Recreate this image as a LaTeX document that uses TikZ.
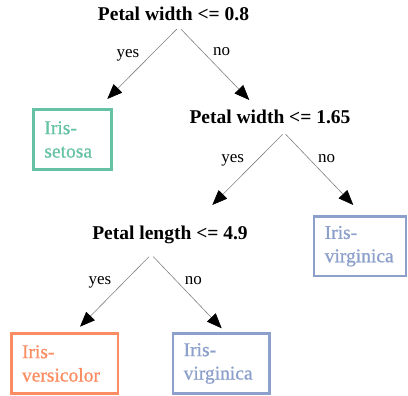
\documentclass[tikz,border=0pt]{standalone}
\usepackage{fontspec}
\setmainfont{Liberation Serif}
\newfontfamily\leaffont{Liberation Serif}[FakeBold=0.8]
\usetikzlibrary{arrows.meta}
\definecolor{setgreen}{HTML}{66C2A5}
\definecolor{setorange}{HTML}{FC8D62}
\definecolor{setblue}{HTML}{8DA0CB}
\begin{document}
\begin{tikzpicture}[x=1pt,y=-1pt,
  cond/.style={font=\fontsize{19.5}{22}\selectfont\bfseries, inner sep=0pt, anchor=base},
  lbl/.style={font=\fontsize{17}{19}\selectfont, inner sep=0pt, anchor=base},
  leaf/.style={draw=#1, text=#1, line width=2.7pt, inner xsep=10.6pt, inner ysep=0pt,
    minimum height=59.5pt, align=left, font=\leaffont\fontsize{19.5}{23.4}\selectfont},
  edge/.style={draw=gray, line width=0.6pt, -{Triangle[length=15pt,width=12pt,color=black]}}
]
\useasboundingbox (0,0) rectangle (408,396);

% decision nodes
\node[cond] (root) at (173.5,20.7) {Petal width <= 0.8};
\node[cond] (pw) at (270,124) {Petal width <= 1.65};
\node[cond] (pl) at (170,239.3) {Petal length <= 4.9};

% leaves
\node[leaf=setgreen, text width=56.2pt] (setosa) at (72.5,139.5) {Iris-\\setosa};
\node[leaf=setblue, text width=70.8pt] (virgA) at (360.1,246.2) {Iris-\\virginica};
\node[leaf=setorange, text width=85.4pt] (versi) at (64.7,363.5) {Iris-\\versicolor};
\node[leaf=setblue, text width=75.1pt] (virgB) at (221.2,363.5) {Iris-\\virginica};

% arrow tips
\coordinate (t1) at (107.3,99);
\coordinate (t2) at (249.3,100);
\coordinate (t3) at (212.3,205);
\coordinate (t4) at (353.3,205);
\coordinate (t5) at (80,326.7);
\coordinate (t6) at (221.7,328.3);

% edges
\draw[edge] ([shift={(3.2,8.5)}]root.base) -- (t1);
\draw[edge] ([shift={(7.5,8.5)}]root.base) -- (t2);
\draw[edge] ([shift={(12.7,10.3)}]pw.base) -- (t3);
\draw[edge] ([shift={(15.7,10.3)}]pw.base) -- (t4);
\draw[edge] ([shift={(-21,17.4)}]pl.base) -- (t5);
\draw[edge] ([shift={(-16.7,17.4)}]pl.base) -- (t6);

% edge labels
\node[lbl] (y1) at (128,57.3) {yes};
\node[lbl] (n1) at (221.7,56) {no};
\node[lbl] (y2) at (232.7,162.7) {yes};
\node[lbl] (n2) at (326.7,162.7) {no};
\node[lbl] (y3) at (100,285) {yes};
\node[lbl] (n3) at (193.3,285) {no};
\end{tikzpicture}
\end{document}
